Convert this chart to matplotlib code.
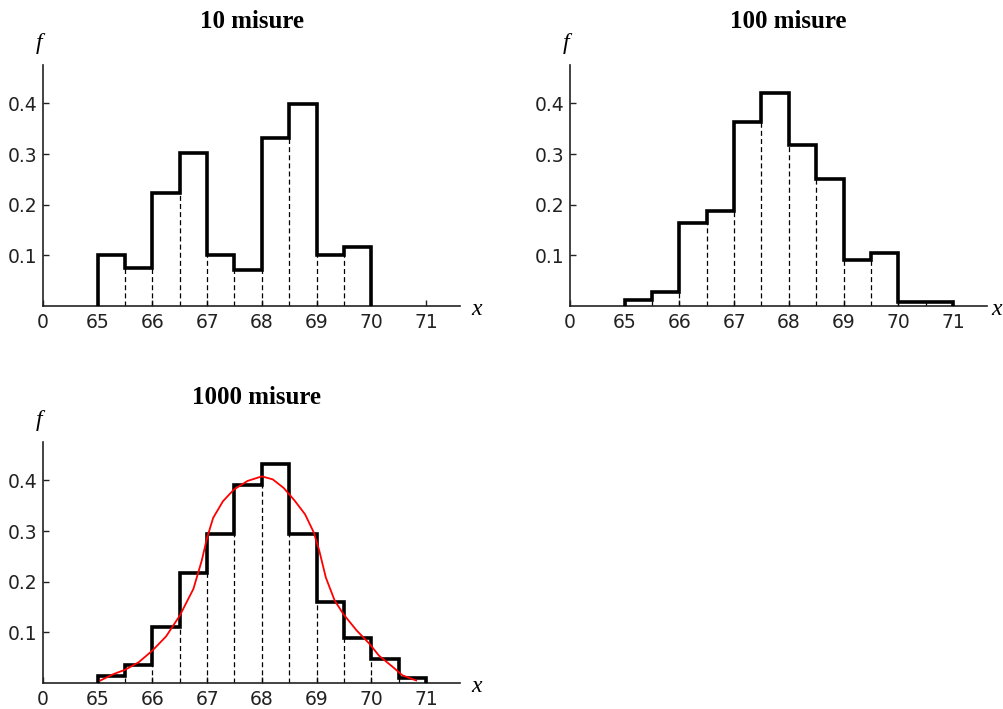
import numpy as np
import matplotlib.pyplot as plt

# bin edges (width 0.5)
edges_10 = [65, 65.5, 66, 66.5, 67, 67.5, 68, 68.5, 69, 69.5, 70]
freq_10 = [0.10, 0.075, 0.224, 0.302, 0.10, 0.072, 0.332, 0.398, 0.10, 0.117]

edges_100 = [65, 65.5, 66, 66.5, 67, 67.5, 68, 68.5, 69, 69.5, 70, 70.5, 71]
freq_100 = [0.012, 0.028, 0.164, 0.188, 0.364, 0.421, 0.318, 0.251, 0.09, 0.105, 0.007, 0.007]

edges_1000 = [65, 65.5, 66, 66.5, 67, 67.5, 68, 68.5, 69, 69.5, 70, 70.5, 71]
freq_1000 = [0.013, 0.035, 0.11, 0.217, 0.295, 0.39, 0.433, 0.295, 0.159, 0.088, 0.047, 0.01]

# red curve
curve_x = [65.05, 65.3, 65.5, 65.75, 66.0, 66.25, 66.5, 66.75, 66.9, 67.0, 67.11,
           67.29, 67.49, 67.74, 68.0, 68.2, 68.4, 68.6, 68.79, 68.95, 69.05, 69.17,
           69.33, 69.49, 69.73, 69.97, 70.14, 70.4, 70.57, 70.82]
curve_y = [0.005, 0.018, 0.026, 0.041, 0.064, 0.092, 0.133, 0.186, 0.241, 0.287, 0.326,
           0.359, 0.382, 0.399, 0.408, 0.402, 0.385, 0.36, 0.333, 0.297, 0.261, 0.208,
           0.163, 0.136, 0.104, 0.077, 0.054, 0.031, 0.015, 0.005]

x_ticks = [64, 65, 66, 67, 68, 69, 70, 71]
x_labels = ["0", "65", "66", "67", "68", "69", "70", "71"]
y_ticks = [0.1, 0.2, 0.3, 0.4]
y_labels = ["0.1", "0.2", "0.3", "0.4"]

fig = plt.figure(figsize=(10.04, 7.09), dpi=100)


def draw_panel(rect, edges, freq, xlab_pos=1.04):
    ax = fig.add_axes(rect)
    edges = np.array(edges)
    freq = np.array(freq)
    ax.stairs(freq, edges, baseline=0, fill=False, color="black", lw=2.6, zorder=3)
    inner = np.minimum(freq[:-1], freq[1:])
    ax.vlines(edges[1:-1], 0, inner, colors="black", lw=0.9,
              linestyles=(0, (4, 2.5)), zorder=2)
    ax.set_xlim(64, 71.62)
    ax.set_ylim(0, 0.476)
    for s in ["top", "right"]:
        ax.spines[s].set_visible(False)
    for s in ["left", "bottom"]:
        ax.spines[s].set_color("#222222")
        ax.spines[s].set_linewidth(1.2)
    ax.set_xticks(x_ticks, x_labels)
    ax.set_yticks(y_ticks, y_labels)
    ax.tick_params(direction="in", length=4, width=1, labelsize=13.5, colors="#222222")
    ax.tick_params(axis="x", pad=5)
    ax.tick_params(axis="y", pad=4)
    ax.text(-0.01, 1.09, "f", transform=ax.transAxes, fontsize=17, style="italic",
            family="Liberation Serif", ha="center", va="center")
    ax.text(xlab_pos, -0.015, "x", transform=ax.transAxes, fontsize=17, style="italic",
            family="Liberation Serif", ha="center", va="center")
    return ax


ax1 = draw_panel([0.0428, 0.5684, 0.4153, 0.340], edges_10, freq_10)
ax2 = draw_panel([0.5677, 0.5684, 0.4153, 0.340], edges_100, freq_100, xlab_pos=1.023)
ax3 = draw_panel([0.0428, 0.0367, 0.4153, 0.340], edges_1000, freq_1000)
ax3.plot(curve_x, curve_y, color="red", lw=1.3, zorder=4)

fig.text(252 / 1004, 1 - 22 / 709, "10 misure", fontsize=18, fontweight="bold",
         family="Liberation Serif", ha="center", va="center")
fig.text(788 / 1004, 1 - 22 / 709, "100 misure", fontsize=18, fontweight="bold",
         family="Liberation Serif", ha="center", va="center")
fig.text(257 / 1004, 1 - 398 / 709, "1000 misure", fontsize=18, fontweight="bold",
         family="Liberation Serif", ha="center", va="center")

fig.savefig("out.png", dpi=100)
